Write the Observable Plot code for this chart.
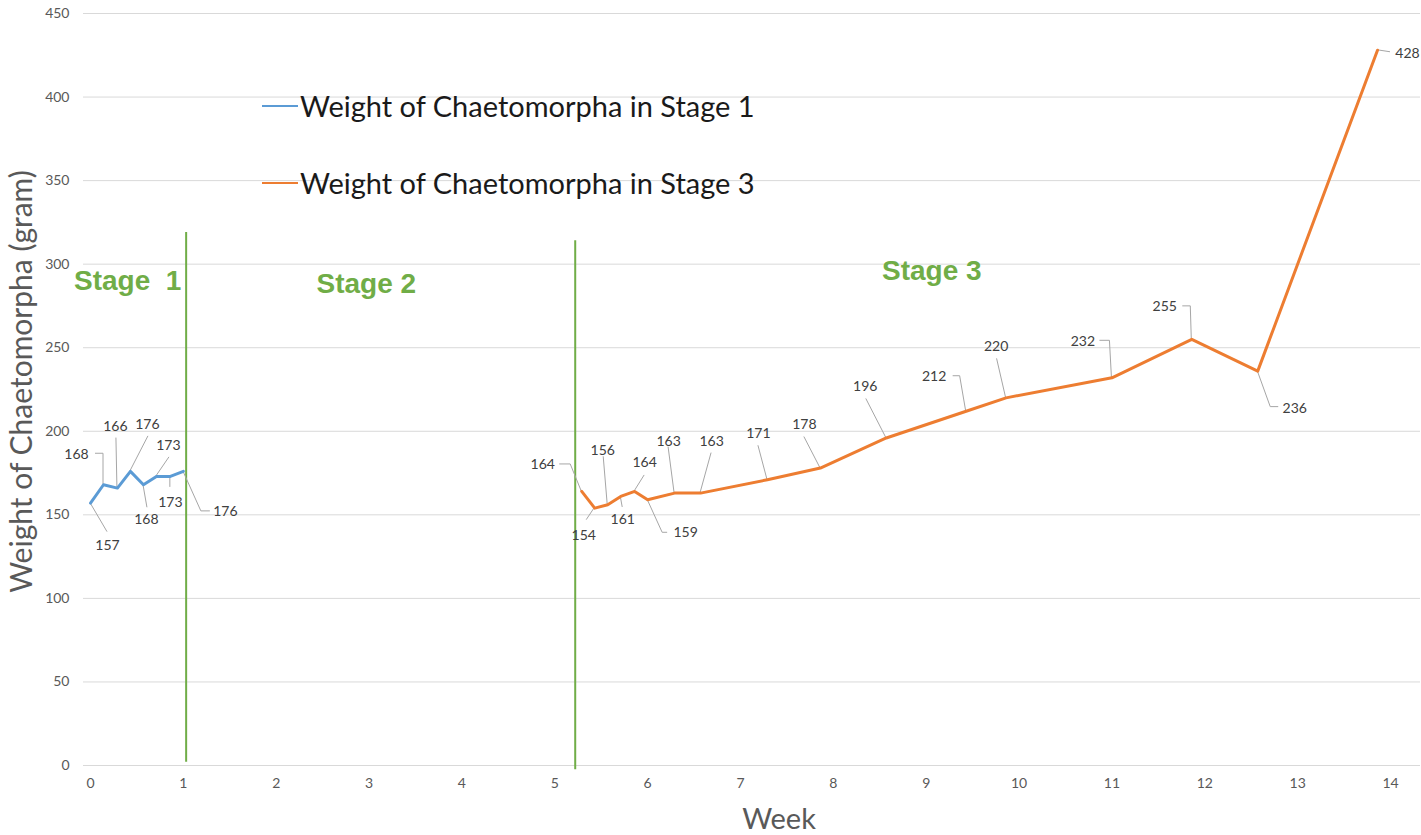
<!DOCTYPE html>
<html>
<head>
<meta charset="utf-8">
<script src="https://cdn.jsdelivr.net/npm/d3@7"></script>
<script src="https://cdn.jsdelivr.net/npm/@observablehq/plot@0.6"></script>
<style>
  html, body { margin: 0; padding: 0; background: #fff; }
  #chart { position: relative; width: 1421px; height: 835px; }
  .legend { position: absolute; left: 262px; font-family: Lato, "Open Sans", sans-serif; font-size: 29px; color: #1a1a1a; display: flex; align-items: center; white-space: nowrap; }
  .legend .swatch { display: inline-block; width: 36px; height: 2px; margin-right: 2px; }
</style>
</head>
<body>
<div id="chart"></div>
<script>
// Weekly weight of Chaetomorpha (grams)
const stage1Weeks   = [0, 0.14, 0.29, 0.43, 0.57, 0.71, 0.86, 1.0];
const stage1Weights = [157, 168, 166, 176, 168, 173, 173, 176];
const stage3Weeks   = [5.29, 5.43, 5.57, 5.71, 5.86, 6.0, 6.29, 6.57, 7.29, 7.86, 8.57, 9.43, 9.86, 11.0, 11.86, 12.57, 13.86];
const stage3Weights = [164, 154, 156, 161, 164, 159, 163, 163, 171, 178, 196, 212, 220, 232, 255, 236, 428];

const xTicks = [0, 1, 2, 3, 4, 5, 6, 7, 8, 9, 10, 11, 12, 13, 14];
const yTicks = [0, 50, 100, 150, 200, 250, 300, 350, 400, 450];

const seriesNames = ["Weight of Chaetomorpha in Stage 1", "Weight of Chaetomorpha in Stage 3"];
const seriesColors = ["#5B9BD5", "#ED7D31"];

// Stage boundaries and stage titles
const stageBreakWeeks = [1.03, 5.22];
const stageBreakTop = [319, 314];
const stageBreakBottom = [2, -2.5];
const stageTitles = ["Stage  1", "Stage 2", "Stage 3"];
const stageTitleWeeks = [0.40, 2.97, 9.06];
const stageTitleWeights = [290, 288, 296];

const stage1 = stage1Weeks.map((week, i) => ({week, weight: stage1Weights[i]}));
const stage3 = stage3Weeks.map((week, i) => ({week, weight: stage3Weights[i]}));

// Callout layout (pixels relative to the point): label centre and leader path
const stage1Callouts = [
  {label: [17, 42],  leader: [[0, 0], [17, 29]]},
  {label: [-27, -30], leader: [[0, 0], [0, -31], [-8, -31]]},
  {label: [-2, -62], leader: [[0, 0], [-1, -50]]},
  {label: [17, -47], leader: [[0, 0], [18, -35]]},
  {label: [3, 35],   leader: [[0, 0], [4, 23]]},
  {label: [12, -31], leader: [[0, 0], [13, -19]]},
  {label: [0, 26],   leader: [[0, 0], [0, 11]]},
  {label: [42, 40],  leader: [[0, 0], [18, 40], [27, 40]]}
];
const stage3Callouts = [
  {label: [-39, -27], leader: [[0, 0], [-11, -27], [-22, -27]]},
  {label: [-11, 27],  leader: [[0, 0], [-8, 12]]},
  {label: [-5, -54],  leader: [[0, 0], [-4, -48]]},
  {label: [2, 23],    leader: [[0, 0], [2, 11]]},
  {label: [10, -29],  leader: [[0, 0], [10, -16]]},
  {label: [38, 33],   leader: [[0, 0], [15, 33], [20, 33]]},
  {label: [-6, -52],  leader: [[0, 0], [-6, -46]]},
  {label: [11, -52],  leader: [[0, 0], [11, -40]]},
  {label: [-9, -46],  leader: [[0, 0], [-9, -34]]},
  {label: [-16, -44], leader: [[0, 0], [-16, -31]]},
  {label: [-21, -51], leader: [[0, 0], [-20, -39]]},
  {label: [-32, -35], leader: [[0, 0], [-6, -35], [-13, -35]]},
  {label: [-10, -51], leader: [[0, 0], [-9, -39]]},
  {label: [-29, -36], leader: [[0, 0], [-2, -37], [-12, -37]]},
  {label: [-27, -33], leader: [[0, 0], [-1, -33], [-9, -33]]},
  {label: [37, 37],   leader: [[0, 0], [13, 36], [21, 36]]},
  {label: [30, 3],    leader: [[0, 0], [13, 2]]}
];

const labelFont = {fontSize: 14, fill: "#404040", fontFamily: "Lato, sans-serif"};

// Leader lines drawn through the plot's x and y scales
function leaders(points, layout) {
  return (index, scales) => {
    const g = d3.create("svg:g")
      .attr("fill", "none")
      .attr("stroke", "#A6A6A6")
      .attr("stroke-width", 1);
    points.forEach((p, i) => {
      const x0 = scales.x(p.week), y0 = scales.y(p.weight);
      g.append("path").attr("d", d3.line()(layout[i].leader.map(([dx, dy]) => [x0 + dx, y0 + dy])));
    });
    return g.node();
  };
}

function calloutLabels(points, layout) {
  return points.map((p, i) => Plot.text([p], {
    x: "week", y: "weight", text: d => String(d.weight),
    dx: layout[i].label[0], dy: layout[i].label[1],
    textAnchor: "middle", lineAnchor: "middle", ...labelFont
  }));
}

const breaks = stageBreakWeeks.map((week, i) => ({week, top: stageBreakTop[i], bottom: stageBreakBottom[i]}));
const titles = stageTitles.map((t, i) => ({t, week: stageTitleWeeks[i], weight: stageTitleWeights[i]}));

const plot = Plot.plot({
  width: 1421,
  height: 835,
  marginLeft: 83,
  marginRight: 1,
  marginTop: 13,
  marginBottom: 70,
  style: {background: "#fff", fontFamily: "Lato, sans-serif", fontSize: "14px", color: "#595959"},
  x: {domain: [-0.0754, 14.323], ticks: xTicks, tickSize: 0, tickPadding: 13, label: null},
  y: {domain: [0, 450], ticks: yTicks, tickSize: 0, tickPadding: 14, label: null},
  marks: [
    Plot.ruleY(yTicks, {stroke: "#D9D9D9", strokeWidth: 1}),
    Plot.ruleX(breaks, {x: "week", y1: "bottom", y2: "top", stroke: "#70AD47", strokeWidth: 2}),
    Plot.text(titles, {x: "week", y: "weight", text: "t", fill: "#70AD47", fontSize: 28, fontWeight: "bold",
      fontFamily: "'Liberation Sans', Arial, sans-serif", textAnchor: "middle", lineAnchor: "middle"}),
    leaders(stage1, stage1Callouts),
    leaders(stage3, stage3Callouts),
    Plot.line(stage1, {x: "week", y: "weight", stroke: seriesColors[0], strokeWidth: 3, strokeLinejoin: "round"}),
    Plot.line(stage3, {x: "week", y: "weight", stroke: seriesColors[1], strokeWidth: 3, strokeLinejoin: "round"}),
    ...calloutLabels(stage1, stage1Callouts),
    ...calloutLabels(stage3, stage3Callouts),
    Plot.text(["Weight of Chaetomorpha (gram)"], {frameAnchor: "left", rotate: -90, dx: -61, dy: -8,
      textAnchor: "middle", lineAnchor: "middle",
      fontSize: 30, fill: "#595959", fontFamily: "Lato, sans-serif"}),
    Plot.text(["Week"], {frameAnchor: "bottom", dx: 27, dy: 54, fontSize: 29, fill: "#595959",
      textAnchor: "middle", fontFamily: "Lato, sans-serif", lineAnchor: "middle"})
  ]
});

const chart = document.getElementById("chart");
chart.appendChild(plot);

// Legend overlaid inside the plot area
const legendTops = [88, 165];
seriesNames.forEach((name, i) => {
  const item = document.createElement("div");
  item.className = "legend";
  item.style.top = legendTops[i] + "px";
  const sw = document.createElement("span");
  sw.className = "swatch";
  sw.style.background = seriesColors[i];
  item.appendChild(sw);
  item.appendChild(document.createTextNode(name));
  chart.appendChild(item);
});
</script>
</body>
</html>
